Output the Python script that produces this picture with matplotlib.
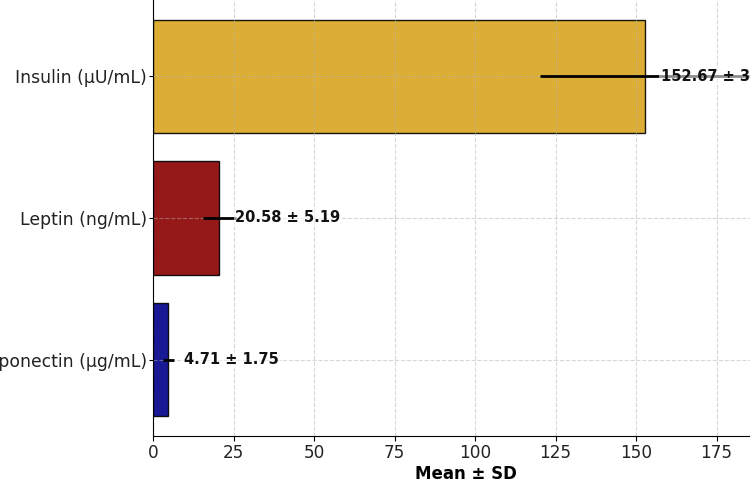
import matplotlib
matplotlib.use("Agg")
import matplotlib.pyplot as plt

hormones = ['Adiponectin (µg/mL)', 'Leptin (ng/mL)', 'Insulin (µU/mL)']
means = [4.71, 20.58, 152.67]
sds = [1.75, 5.19, 32.45]
colors = ['darkblue', 'darkred', 'goldenrod']

fig = plt.figure(figsize=(7.5, 4.99), dpi=100)
# the reference is a crop: axes run off the left and right of the picture
ax = fig.add_axes([153/750, 63/499, 626/750, 436/499])

pos = range(len(hormones))
ax.barh(pos, means, xerr=sds, color=colors, edgecolor='black', alpha=0.9,
        height=0.8, error_kw=dict(ecolor='black', elinewidth=2, capsize=0))

for i, (m, s) in enumerate(zip(means, sds)):
    ax.text(m + 5, i, f'{m:.2f} ± {s:.2f}', va='center', ha='left',
            fontsize=10.5, fontweight='bold', color='#111111', zorder=5,
            bbox=dict(facecolor='white', edgecolor='none', alpha=0.55, pad=1))

ax.set_yticks(list(pos))
ax.set_yticklabels(hormones, fontsize=12.4, color='#222222')
ax.tick_params(axis='x', labelsize=12.2, labelcolor='#222222', pad=2.5)
ax.tick_params(axis='y', length=3, pad=1.5)
ax.set_xlim(0, 194.4)
ax.set_ylim(-0.54, 2.54)
ax.set_xlabel('Mean ± SD', fontsize=12, fontweight='bold', labelpad=2)
ax.grid(True, linestyle='--', alpha=0.5)
ax.spines['top'].set_visible(False)
ax.spines['right'].set_visible(False)

fig.savefig('out.png', dpi=100)
